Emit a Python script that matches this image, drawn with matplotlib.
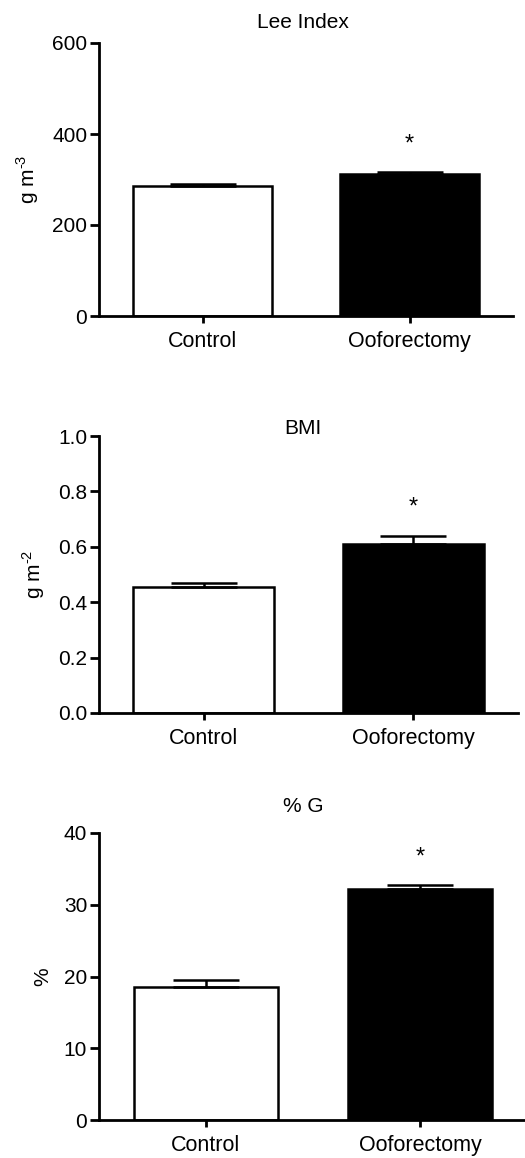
import matplotlib
matplotlib.use("Agg")
import matplotlib.pyplot as plt

plt.rcParams['font.family'] = ['Liberation Sans', 'DejaVu Sans']
plt.rcParams['mathtext.fontset'] = 'custom'
plt.rcParams['mathtext.rm'] = 'Liberation Sans'

groups = ["Control", "Ooforectomy"]

lee_mean = [286, 311]
lee_err = [4, 5]

bmi_mean = [0.456, 0.611]
bmi_err = [0.015, 0.028]

fat_mean = [18.6, 32.2]
fat_err = [0.9, 0.5]

titles = ["Lee Index", "BMI", "% G"]
ylabels = [r"g m$^{\text{-3}}$", r"g m$^{\text{-2}}$", "%"]
yticks = [[0, 200, 400, 600], [0.0, 0.2, 0.4, 0.6, 0.8, 1.0], [0, 10, 20, 30, 40]]
ytick_labels = [["0", "200", "400", "600"],
                ["0.0", "0.2", "0.4", "0.6", "0.8", "1.0"],
                ["0", "10", "20", "30", "40"]]
star_y = [376, 0.74, 36.6]

means = [lee_mean, bmi_mean, fat_mean]
errs = [lee_err, bmi_err, fat_err]

fig = plt.figure(figsize=(5.25, 11.58), dpi=100)

# axes boxes in figure fractions (left, bottom, width, height)
boxes = [
    (99/525, 1 - 316/1158, 414/525, 273/1158),
    (99/525, 1 - 713/1158, 419/525, 277/1158),
    (99/525, 1 - 1120/1158, 428/525, 287/1158),
]
# title centres in pixels from top
title_y = [23, 428, 806]

for i in range(3):
    ax = fig.add_axes(boxes[i])
    x = [0, 1]
    ax.bar(x, means[i], width=0.675, color=["white", "black"],
           edgecolor="black", linewidth=1.8, zorder=2)
    ax.errorbar(x, means[i], yerr=[[0, 0], errs[i]], fmt="none",
                ecolor="black", elinewidth=1.8, capsize=24, capthick=1.8, zorder=3)
    ax.text(1, star_y[i], "*", ha="center", va="center", fontsize=17)

    ax.set_xlim(-0.5, 1.5)
    ax.set_ylim(yticks[i][0], yticks[i][-1])
    ax.set_xticks(x)
    ax.set_xticklabels(groups, fontsize=15.5)
    ax.set_yticks(yticks[i])
    ax.set_yticklabels(ytick_labels[i], fontsize=15)
    ax.set_ylabel(ylabels[i], fontsize=15, labelpad=8)

    ax.spines["top"].set_visible(False)
    ax.spines["right"].set_visible(False)
    ax.spines["left"].set_linewidth(2)
    ax.spines["bottom"].set_linewidth(2)
    ax.tick_params(axis="y", length=6.5, width=2, pad=2)
    ax.tick_params(axis="x", length=5, width=2, pad=6)

    fig.text(303/525, 1 - title_y[i]/1158, titles[i], ha="center", va="center",
             fontsize=15)

fig.savefig("out.png", dpi=100)
